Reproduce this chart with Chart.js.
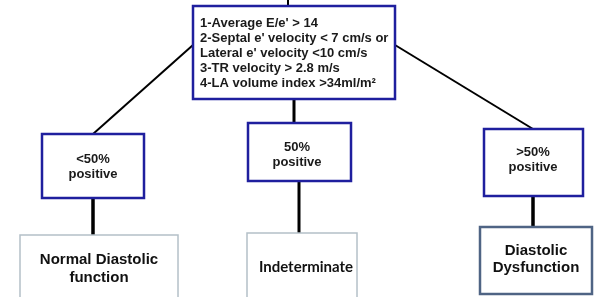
<!DOCTYPE html>
<html>
<head>
<meta charset="utf-8">
<script src="https://cdn.jsdelivr.net/npm/chart.js@4"></script>
<style>
  html, body { margin: 0; padding: 0; background: #ffffff; }
  #wrap { width: 594px; height: 297px; position: relative; }
</style>
</head>
<body>
<div id="wrap"><canvas id="flowChart"></canvas></div>
<script>
// Text content of the flowchart
const criteria = [
    "1-Average E/e' > 14",
    "2-Septal e' velocity < 7 cm/s or",
    "Lateral e' velocity <10 cm/s",
    "3-TR velocity > 2.8 m/s",
    "4-LA volume index >34ml/m\u00B2"
];
const positiveShares = ['<50%', '50%', '>50%'];
const positiveWord = 'positive';
const conclusions = [
    ['Normal Diastolic', 'function'],
    ['Indeterminate'],
    ['Diastolic', 'Dysfunction']
];

// Layout (page units, 594 x 297, y downward)
const topBox = { x1: 193, y1: 6, x2: 395, y2: 99 };
const midBoxes = [
    { x1: 42, y1: 134, x2: 144, y2: 198, tx: 93, ty: 159 },
    { x1: 248, y1: 123, x2: 351, y2: 181, tx: 297, ty: 147 },
    { x1: 484, y1: 129, x2: 583, y2: 196, tx: 533, ty: 152 }
];
const endBoxes = [
    { x1: 20, y1: 235, x2: 178, y2: 302, tx: 99, ty: 260, color: '#b4c0c8', width: 1.5, font: 'bold 15px "Liberation Sans", Arial, sans-serif', lh: 18 },
    { x1: 247, y1: 233, x2: 357, y2: 302, tx: 306, ty: 267, color: '#b4c0c8', width: 1.5, font: 'bold 15px Lato, "Open Sans", sans-serif', lh: 18 },
    { x1: 480, y1: 227, x2: 592, y2: 294, tx: 536, ty: 251, color: '#4f6484', width: 2.5, font: 'bold 15px "Liberation Sans", Arial, sans-serif', lh: 17 }
];
const connectors = [
    { pts: [[288, 0], [288, 6]], w: 2 },
    { pts: [[193, 45], [93, 134]], w: 2 },
    { pts: [[294, 99], [294, 123]], w: 3 },
    { pts: [[395, 45], [533, 129]], w: 2 },
    { pts: [[93, 198], [93, 235]], w: 3.5 },
    { pts: [[299, 181], [299, 233]], w: 3 },
    { pts: [[533, 196], [533, 227]], w: 3.5 }
];

const datasets = connectors.map(c => ({
    data: c.pts.map(p => ({ x: p[0], y: p[1] })),
    showLine: true,
    borderColor: '#000000',
    borderWidth: c.w,
    pointRadius: 0,
    borderCapStyle: 'butt'
}));

// Draw boxes and their text using the chart's own scales
const boxPlugin = {
    id: 'boxes',
    afterDatasetsDraw(chart) {
        const ctx = chart.ctx;
        const sx = chart.scales.x, sy = chart.scales.y;
        const px = v => sx.getPixelForValue(v);
        const py = v => sy.getPixelForValue(v);

        function rect(b, color, width) {
            ctx.save();
            ctx.fillStyle = '#ffffff';
            ctx.fillRect(px(b.x1), py(b.y1), px(b.x2) - px(b.x1), py(b.y2) - py(b.y1));
            ctx.strokeStyle = color;
            ctx.lineWidth = width;
            ctx.strokeRect(px(b.x1), py(b.y1), px(b.x2) - px(b.x1), py(b.y2) - py(b.y1));
            ctx.restore();
        }

        ctx.save();
        ctx.textBaseline = 'middle';

        // criteria box
        rect(topBox, '#1f1f9e', 2.5);
        ctx.fillStyle = '#1a1a1a';
        ctx.font = 'bold 13px "Liberation Sans", Arial, sans-serif';
        ctx.textAlign = 'left';
        criteria.forEach((line, i) => {
            ctx.fillText(line, px(200), py(23 + i * 15));
        });

        // share boxes
        ctx.textAlign = 'center';
        ctx.font = 'bold 13px "Liberation Sans", Arial, sans-serif';
        midBoxes.forEach((b, i) => {
            rect(b, '#1f1f9e', 2.5);
            ctx.fillStyle = '#1a1a1a';
            ctx.fillText(positiveShares[i], px(b.tx), py(b.ty));
            ctx.fillText(positiveWord, px(b.tx), py(b.ty + 15));
        });

        // conclusion boxes
        endBoxes.forEach((b, i) => {
            rect(b, b.color, b.width);
            ctx.fillStyle = '#111111';
            ctx.font = b.font;
            conclusions[i].forEach((line, j) => {
                ctx.fillText(line, px(b.tx), py(b.ty + j * b.lh));
            });
        });
        ctx.restore();
    }
};

new Chart(document.getElementById('flowChart').getContext('2d'), {
    type: 'scatter',
    data: { datasets: datasets },
    options: {
        responsive: true,
        maintainAspectRatio: false,
        animation: false,
        layout: { padding: 0 },
        plugins: { legend: { display: false }, tooltip: { enabled: false } },
        scales: {
            x: { type: 'linear', min: 0, max: 594, display: false },
            y: { type: 'linear', min: 0, max: 297, reverse: true, display: false }
        }
    },
    plugins: [boxPlugin]
});
</script>
</body>
</html>
